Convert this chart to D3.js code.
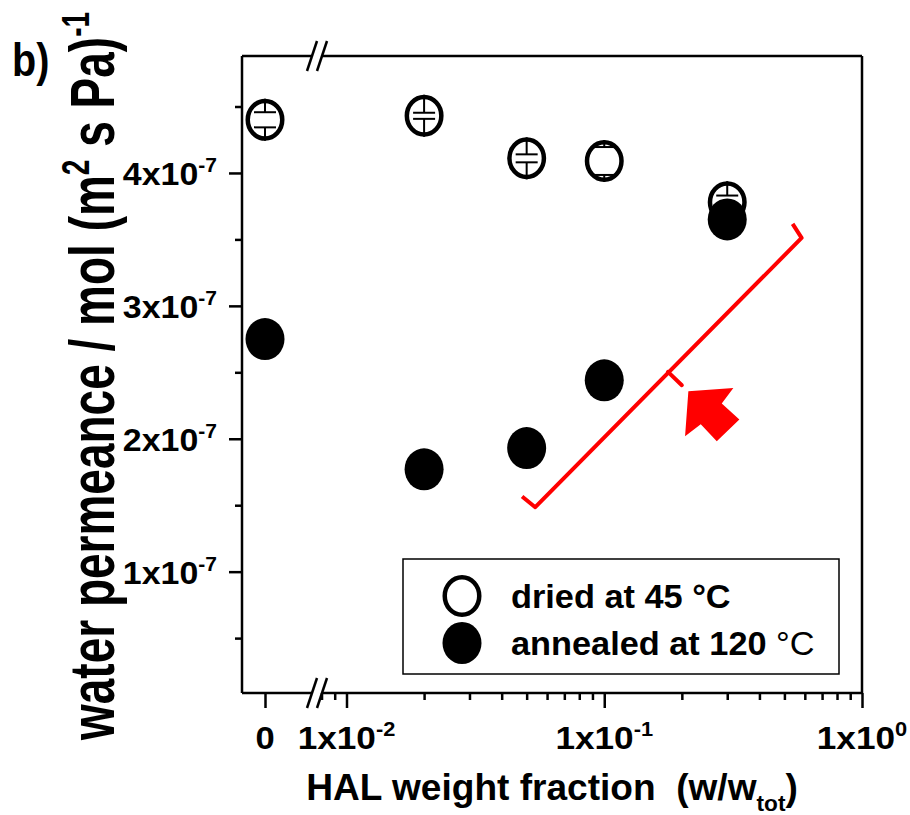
<!DOCTYPE html>
<html>
<head>
<meta charset="utf-8">
<script src="https://cdn.jsdelivr.net/npm/d3@7"></script>
<style>
  body { margin: 0; background: #fff; }
  svg { display: block; font-family: "Liberation Sans", Arial, sans-serif; font-weight: bold; }
</style>
</head>
<body>
<svg id="chart"></svg>
<script>
// ---- data ----
const fractions = [0, 0.02, 0.05, 0.1, 0.3];
const dried = [4.40e-7, 4.43e-7, 4.11e-7, 4.09e-7, 3.78e-7];
const driedErr = [0.057e-7, 0.023e-7, 0.03e-7, 0.105e-7, 0.05e-7];
const annealed = [2.75e-7, 1.77e-7, 1.93e-7, 2.44e-7, 3.65e-7];

const yTicks = [1e-7, 2e-7, 3e-7, 4e-7];
const yTickLabels = [["1x10", "-7"], ["2x10", "-7"], ["3x10", "-7"], ["4x10", "-7"]];
const yMinor = [0.5e-7, 1.5e-7, 2.5e-7, 3.5e-7, 4.5e-7];
const xTicks = [0.01, 0.1, 1];
const xTickLabels = [["1x10", "-2"], ["1x10", "-1"], ["1x10", "0"]];
const xMinor = [0.008, 0.009, 0.02, 0.03, 0.04, 0.05, 0.06, 0.07, 0.08, 0.09,
                0.2, 0.3, 0.4, 0.5, 0.6, 0.7, 0.8, 0.9];

const legendLabels = ["dried at 45 ", "annealed at 120 "];

// red bracket and its centre mark, in data units [fraction, permeance]
const bracket = [[0.048, 1.566e-7], [0.054, 1.485e-7], [0.583, 3.511e-7], [0.538, 3.617e-7]];
const bracketMark = [[0.1767, 2.503e-7], [0.200, 2.403e-7]];
const arrowTip = [0.212, 2.357e-7];

// ---- layout ----
const W = 910, H = 815;
const margin = { top: 56, left: 242, right: 48, bottom: 122 };
const width = W - margin.left - margin.right;   // 620
const height = H - margin.top - margin.bottom;  // 637
const breakX = [70, 80];

const svg = d3.select("#chart").attr("width", W).attr("height", H);
const chart = svg.append("g").attr("transform", `translate(${margin.left},${margin.top})`);

// zero segment and log segment of the broken x axis
const xZero = d3.scaleLinear().domain([-1, 2]).range([0, 69]);
const xLog = d3.scaleLog().domain([0.01, 1]).range([104.5, width]);
const xPos = v => v === 0 ? xZero(0) : xLog(v);
const y = d3.scaleLinear().domain([0.087e-7, 4.88e-7]).range([height, 0]);

// ---- axes ----
const tickStyle = g => {
  g.select(".domain").remove();
  g.selectAll("line").attr("stroke", "#000").attr("stroke-width", 2.5);
};

chart.append("g").call(d3.axisLeft(y).tickValues(yTicks).tickSize(13).tickFormat("")).call(tickStyle);
chart.append("g").call(d3.axisLeft(y).tickValues(yMinor).tickSize(7).tickFormat("")).call(tickStyle);

const xAxisG = chart.append("g").attr("transform", `translate(0,${height})`);
xAxisG.append("g").call(d3.axisBottom(xLog).tickValues(xTicks).tickSize(15).tickFormat("")).call(tickStyle);
xAxisG.append("g").call(d3.axisBottom(xLog).tickValues(xMinor).tickSize(7).tickFormat("")).call(tickStyle);
xAxisG.append("g").call(d3.axisBottom(xZero).tickValues([0]).tickSize(15).tickFormat("")).call(tickStyle);

// frame with breaks
const frame = chart.append("g").attr("stroke", "#000").attr("stroke-width", 2.5).attr("fill", "none");
frame.append("line").attr("x1", 0).attr("y1", 0).attr("x2", 0).attr("y2", height);
frame.append("line").attr("x1", width).attr("y1", 0).attr("x2", width).attr("y2", height);
[0, height].forEach(yy => {
  frame.append("line").attr("x1", 0).attr("y1", yy).attr("x2", breakX[0]).attr("y2", yy);
  frame.append("line").attr("x1", breakX[1]).attr("y1", yy).attr("x2", width).attr("y2", yy);
  breakX.forEach(bx => {
    frame.append("line").attr("x1", bx - 5).attr("y1", yy + 15).attr("x2", bx + 5).attr("y2", yy - 15);
  });
});

// tick labels
const supLabel = (sel, base, sup, size) => {
  sel.append("tspan").text(base);
  sel.append("tspan").attr("font-size", size * 0.62).attr("dy", -size * 0.4).text(sup);
};

yTicks.forEach((t, i) => {
  const txt = chart.append("text")
    .attr("text-anchor", "end")
    .attr("font-size", 32)
    .attr("transform", `translate(-25,${y(t) + 12}) scale(1.06,1)`);
  supLabel(txt, yTickLabels[i][0], yTickLabels[i][1], 32);
});

chart.append("text")
  .attr("text-anchor", "middle")
  .attr("font-size", 32)
  .attr("transform", `translate(${xZero(0)},${height + 56}) scale(1.08,1)`)
  .text("0");

xTicks.forEach((t, i) => {
  const txt = chart.append("text")
    .attr("text-anchor", "middle")
    .attr("font-size", 32)
    .attr("transform", `translate(${xLog(t)},${height + 56}) scale(1.1,1)`);
  supLabel(txt, xTickLabels[i][0], xTickLabels[i][1], 32);
});

// axis titles
const xTitle = svg.append("text")
  .attr("text-anchor", "middle")
  .attr("font-size", 36)
  .attr("transform", `translate(${margin.left + width / 2},800) scale(1.03,1)`);
xTitle.append("tspan").text("HAL weight fraction\u00a0 (w/w");
xTitle.append("tspan").attr("font-size", 22).attr("dy", 11).text("tot");
xTitle.append("tspan").attr("dy", -11).text(")");

const yTitle = svg.append("text")
  .attr("text-anchor", "middle")
  .attr("font-size", 46)
  .attr("transform", "translate(114,376) rotate(-90) scale(1,1.38)");
yTitle.append("tspan").text("water permeance / mol (m");
yTitle.append("tspan").attr("font-size", 28).attr("dy", -18).text("2");
yTitle.append("tspan").attr("dy", 18).text(" s Pa)");
yTitle.append("tspan").attr("font-size", 28).attr("dy", -18).text("-1");

svg.append("text").attr("font-size", 46).attr("transform", "translate(12,76) scale(0.86,1)").text("b)");

// ---- red annotation ----
const line = d3.line().x(d => xLog(d[0])).y(d => y(d[1]));
chart.append("path").attr("d", line(bracket))
  .attr("fill", "none").attr("stroke", "#ff0000").attr("stroke-width", 4).attr("stroke-linejoin", "round");
chart.append("path").attr("d", line(bracketMark))
  .attr("fill", "none").attr("stroke", "#ff0000").attr("stroke-width", 4).attr("stroke-linecap", "round");
const arrowShape = [[0, 0], [45, -3.3], [33.4, 12.3], [51, 28.3], [28.4, 50], [12.4, 33], [-3.3, 45]];
chart.append("polygon")
  .attr("points", arrowShape.map(p => [xLog(arrowTip[0]) + p[0], y(arrowTip[1]) + p[1]].join(",")).join(" "))
  .attr("fill", "#ff0000");

// ---- data marks ----
const rx = 19.5, ry = 21, sw = 4.5;
const pts = fractions.map((f, i) => ({ f, d: dried[i], e: driedErr[i], a: annealed[i] }));

// open symbols: white fill, inner error bars, then ring
chart.selectAll(".dry-fill").data(pts).join("ellipse")
  .attr("cx", p => xPos(p.f)).attr("cy", p => y(p.d))
  .attr("rx", rx - sw / 2).attr("ry", ry - sw / 2).attr("fill", "#fff");

const eb = chart.append("g").attr("stroke", "#000").attr("stroke-width", 2);
pts.forEach(p => {
  const cx = xPos(p.f), cy = y(p.d);
  const top = y(p.d + p.e), bot = y(p.d - p.e);
  eb.append("line").attr("x1", cx).attr("x2", cx).attr("y1", cy - ry).attr("y2", top);
  eb.append("line").attr("x1", cx).attr("x2", cx).attr("y1", cy + ry).attr("y2", bot);
  eb.append("line").attr("x1", cx - 11).attr("x2", cx + 11).attr("y1", top).attr("y2", top);
  eb.append("line").attr("x1", cx - 11).attr("x2", cx + 11).attr("y1", bot).attr("y2", bot);
});

chart.selectAll(".dry-ring").data(pts).join("ellipse")
  .attr("cx", p => xPos(p.f)).attr("cy", p => y(p.d))
  .attr("rx", rx - sw / 2).attr("ry", ry - sw / 2)
  .attr("fill", "none").attr("stroke", "#000").attr("stroke-width", sw);

chart.selectAll(".ann").data(pts).join("ellipse")
  .attr("cx", p => xPos(p.f)).attr("cy", p => y(p.a))
  .attr("rx", rx).attr("ry", ry).attr("fill", "#000");

// ---- legend ----
const legend = chart.append("g").attr("transform", "translate(161,503)");
legend.append("rect").attr("width", 436).attr("height", 115)
  .attr("fill", "#fff").attr("stroke", "#000").attr("stroke-width", 1.5);
legend.append("ellipse").attr("cx", 59).attr("cy", 37).attr("rx", rx - sw / 2).attr("ry", ry - sw / 2)
  .attr("fill", "#fff").attr("stroke", "#000").attr("stroke-width", sw);
legend.append("ellipse").attr("cx", 59).attr("cy", 84).attr("rx", rx).attr("ry", ry).attr("fill", "#000");

const l1 = legend.append("text").attr("font-size", 33).attr("transform", "translate(108,49) scale(1.04,1)");
l1.append("tspan").text(legendLabels[0] + "°C");
const l2 = legend.append("text").attr("font-size", 33).attr("transform", "translate(108,96) scale(1.04,1)");
l2.append("tspan").text(legendLabels[1]);
l2.append("tspan").attr("font-weight", "normal").text("°C");
</script>
</body>
</html>
